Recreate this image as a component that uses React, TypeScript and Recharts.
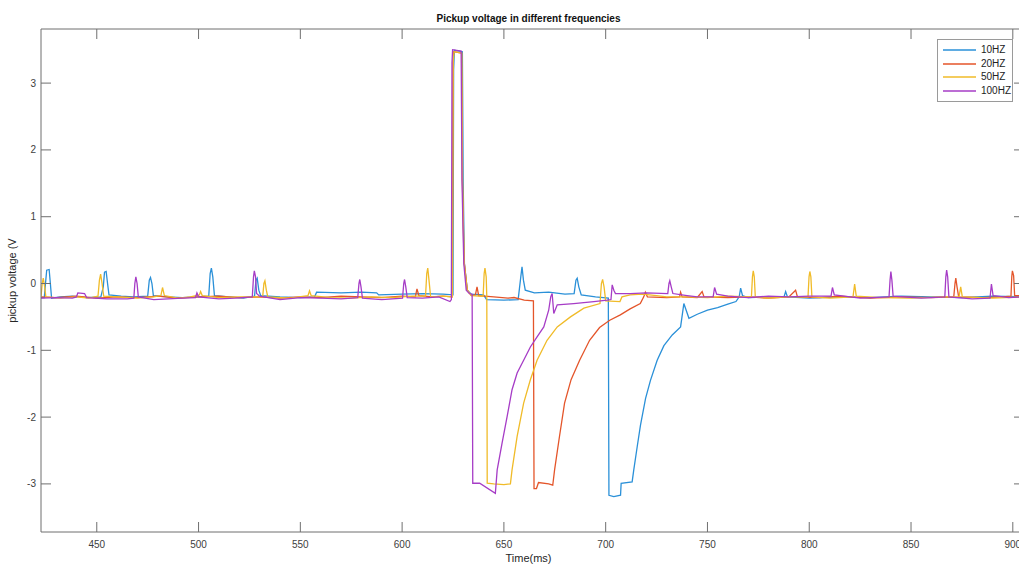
import React from 'react';
import { LineChart, Line, XAxis, YAxis, Legend, Label } from 'recharts';

// ---- data (time in ms, pickup voltage in V) ----
const seriesNames = ['10HZ', '20HZ', '50HZ', '100HZ'];
const xTicks = [450, 500, 550, 600, 650, 700, 750, 800, 850, 900];
const yTicks = [-3, -2, -1, 0, 1, 2, 3];
const xDomain: [number, number] = [422.6, 905.5];
const yDomain: [number, number] = [-3.72, 3.81];

const hz10: [number, number][] = [
  [422.6, -0.21], [424.2, -0.21], [424.8, 0.0], [425.4, 0.2], [426.6, 0.21], [427.2, 0.0], [427.8, -0.22],
  [432, -0.2], [438, -0.19], [445, -0.21], [452, -0.2], [453.2, -0.05], [453.8, 0.17], [454.6, 0.18],
  [455.3, 0.0], [456, -0.17], [462, -0.19], [468, -0.2], [475, -0.19], [475.8, 0.05], [476.4, 0.09],
  [477.1, 0.0], [477.8, -0.18], [485, -0.2], [492, -0.21], [500, -0.2], [505, -0.19], [505.7, 0.15],
  [506.3, 0.23], [507, 0.1], [507.8, -0.18], [515, -0.2], [522, -0.22], [527.5, -0.19], [528.2, 0.05],
  [528.8, 0.08], [529.6, -0.1], [530.5, -0.18], [540, -0.2], [550, -0.21], [557, -0.2], [558, -0.13],
  [570, -0.14], [580, -0.13], [587.5, -0.14], [588.5, -0.17], [600, -0.16], [610, -0.15], [620, -0.16],
  [625, -0.17], [625.3, 3.2], [625.7, 3.49], [629.6, 3.47], [630, 1.5], [630.6, 0.3], [632, -0.1],
  [634, -0.16], [640, -0.17], [641.5, -0.24], [650, -0.25], [657, -0.24], [658.3, 0.1], [658.9, 0.25],
  [659.6, 0.05], [660.5, -0.1], [665, -0.14], [672, -0.13], [680, -0.16], [684.5, -0.15], [685.4, 0.05],
  [686, 0.08], [686.8, -0.05], [688, -0.17], [695, -0.2], [701.3, -0.22], [701.6, -3.17], [704, -3.19],
  [707.3, -3.17], [707.6, -2.99], [713, -2.97], [713.8, -2.79], [715.5, -2.44], [717.1, -2.12],
  [719.6, -1.72], [722, -1.45], [725.3, -1.15], [728.6, -0.93], [732.7, -0.77], [736.8, -0.65],
  [738.4, -0.3], [740.9, -0.52], [745, -0.46], [750, -0.4], [755, -0.36], [760, -0.31], [764, -0.27],
  [765.6, -0.2], [766.3, -0.07], [767.2, -0.18], [770, -0.21], [780, -0.2], [787.6, -0.2], [788.4, -0.12],
  [789.3, -0.2], [800, -0.22], [815, -0.2], [830, -0.21], [845, -0.19], [860, -0.2], [875, -0.21],
  [890, -0.19], [905.5, -0.2],
];

const hz20: [number, number][] = [
  [422.6, -0.2], [430, -0.21], [440, -0.19], [450, -0.22], [460, -0.2], [470, -0.21], [480, -0.19],
  [490, -0.22], [500, -0.2], [510, -0.19], [520, -0.21], [530, -0.2], [540, -0.22], [550, -0.2],
  [560, -0.21], [570, -0.19], [580, -0.2], [590, -0.21], [600, -0.19], [606.5, -0.2], [607.3, -0.08],
  [608.2, -0.18], [615, -0.2], [620, -0.19], [624.6, -0.2], [625, 3.3], [625.3, 3.47], [629.2, 3.45],
  [629.6, 1.55], [630.4, 0.35], [632, -0.1], [634, -0.18], [636, -0.17], [636.8, -0.05], [637.6, -0.18],
  [645, -0.2], [652, -0.22], [655, -0.21], [660, -0.25], [664.5, -0.26], [664.8, -3.07], [666, -3.07],
  [667, -2.98], [672, -3.0], [674, -3.02], [674.9, -2.79], [677.3, -2.29], [679.8, -1.79], [683, -1.44],
  [687.2, -1.15], [692.1, -0.85], [697, -0.66], [702, -0.55], [707.2, -0.47], [712, -0.38], [717, -0.3],
  [718.7, -0.2], [719.5, -0.13], [720.5, -0.2], [730, -0.21], [736.3, -0.2], [736.8, -0.13], [737.6, -0.2],
  [745, -0.21], [747.4, -0.12], [748.3, -0.2], [760, -0.21], [770, -0.2], [780, -0.22], [790, -0.2],
  [793.3, -0.1], [794.2, -0.2], [805, -0.21], [815, -0.19], [830, -0.22], [845, -0.2], [860, -0.21],
  [871, -0.2], [871.6, 0.0], [872, 0.08], [872.6, -0.05], [873.4, -0.2], [885, -0.21], [895, -0.2],
  [899.1, -0.19], [899.5, 0.1], [899.8, 0.19], [900.4, 0.12], [900.9, -0.18], [905.5, -0.18],
];

const hz50: [number, number][] = [
  [422.6, -0.2], [423.2, 0.0], [423.7, 0.08], [424.4, -0.05], [425, -0.2], [432, -0.22], [440, -0.2],
  [446, -0.22], [450.6, -0.19], [451.3, 0.05], [451.9, 0.14], [452.6, 0.0], [453.4, -0.19], [460, -0.2],
  [470, -0.22], [478, -0.2], [481.5, -0.18], [482.3, -0.06], [483.2, -0.18], [490, -0.22], [496, -0.2],
  [500.4, -0.17], [501, -0.12], [501.8, -0.18], [510, -0.21], [520, -0.2], [531.5, -0.2], [532.1, 0.0],
  [532.6, 0.04], [533.3, -0.1], [534, -0.2], [545, -0.22], [553.8, -0.18], [554.5, -0.11], [555.3, -0.18],
  [565, -0.21], [575, -0.22], [585, -0.2], [595, -0.21], [605, -0.19], [611.5, -0.19], [612.1, 0.15],
  [612.6, 0.23], [613.2, 0.05], [614, -0.2], [620, -0.19], [624.7, -0.2], [625.1, 3.3], [625.5, 3.47],
  [629.3, 3.45], [629.7, 1.5], [630.5, 0.3], [632, -0.1], [634, -0.18], [639.8, -0.19], [640.3, 0.15],
  [640.7, 0.23], [641.3, 0.1], [641.6, -0.2], [641.8, -2.99], [645, -3.0], [650, -3.01], [653.2, -3.0],
  [654, -2.79], [656.5, -2.29], [659.7, -1.79], [663, -1.44], [666.3, -1.15], [671.2, -0.85],
  [676.2, -0.65], [682.7, -0.5], [689.3, -0.37], [697.2, -0.3], [697.9, 0.0], [698.5, 0.06], [699.2, -0.05],
  [700, -0.26], [707, -0.27], [708, -0.2], [712, -0.17], [718, -0.16], [725, -0.18], [730, -0.2],
  [740, -0.2], [750, -0.21], [760, -0.19], [771.6, -0.2], [772.1, 0.1], [772.5, 0.19], [773, 0.1],
  [773.5, -0.2], [780, -0.22], [790, -0.2], [799.4, -0.2], [799.9, 0.1], [800.3, 0.18], [800.8, 0.1],
  [801.3, -0.2], [810, -0.22], [821.5, -0.2], [822.3, -0.01], [823.1, -0.19], [835, -0.21], [850, -0.22],
  [865, -0.2], [873.6, -0.2], [874.4, -0.05], [875.2, -0.2], [890, -0.22], [905.5, -0.2],
];

const hz100: [number, number][] = [
  [422.6, -0.22], [430, -0.21], [438, -0.22], [440, -0.2], [440.7, -0.14], [444, -0.15], [445, -0.21],
  [455, -0.23], [465, -0.23], [468.2, -0.22], [468.7, 0.0], [469.2, 0.1], [469.8, 0.0], [470.4, -0.2],
  [478, -0.24], [485, -0.23], [492, -0.22], [498.5, -0.21], [499.2, -0.14], [500, -0.2], [510, -0.23],
  [518, -0.22], [526.4, -0.2], [527, 0.1], [527.4, 0.19], [528, 0.1], [528.5, -0.15], [530, -0.19],
  [540, -0.24], [550, -0.21], [560, -0.22], [570, -0.23], [578.2, -0.21], [578.8, 0.0], [579.2, 0.06],
  [579.8, -0.05], [580.5, -0.22], [590, -0.24], [600.2, -0.22], [600.8, 0.0], [601.2, 0.06], [601.8, -0.05],
  [602.5, -0.21], [610, -0.22], [618, -0.2], [623.5, -0.27], [624.2, -0.24], [624.5, 3.3], [624.8, 3.5],
  [629, 3.48], [629.4, 1.55], [630.3, 0.3], [631.5, -0.1], [633, -0.15], [634.4, -0.16], [634.7, -2.99],
  [638.1, -2.99], [645.8, -3.14], [646.7, -2.79], [649.1, -2.39], [651.6, -1.99], [654, -1.59],
  [656.5, -1.34], [659.7, -1.15], [663, -0.95], [666.3, -0.8], [669.6, -0.65], [672, -0.4], [673, -0.2],
  [673.7, -0.15], [674.5, -0.45], [676.2, -0.32], [684.3, -0.3], [694.2, -0.27], [700.7, -0.25],
  [702.6, -0.24], [703.2, -0.02], [704, -0.1], [704.8, -0.15], [712, -0.15], [720, -0.14], [730.5, -0.15],
  [731.1, 0.0], [731.5, 0.04], [732.2, -0.05], [733, -0.15], [740, -0.18], [745, -0.2], [752.8, -0.2],
  [753.5, -0.06], [754.5, -0.16], [760, -0.19], [770, -0.21], [780, -0.19], [790, -0.2], [800, -0.19],
  [810.7, -0.19], [811.4, -0.06], [812.3, -0.17], [825, -0.22], [839.2, -0.2], [839.7, 0.05], [840.1, 0.18],
  [840.6, 0.05], [841.2, -0.19], [855, -0.22], [866.6, -0.2], [867.1, 0.1], [867.5, 0.2], [868, 0.1],
  [868.6, -0.2], [880, -0.23], [888.8, -0.22], [889.5, -0.01], [890.3, -0.18], [898, -0.21], [905.5, -0.2],
];

const seriesPoints = [hz10, hz20, hz50, hz100];
const seriesColors = ['#2a90d8', '#e4552a', '#f0bb28', '#a63cc6'];

const toRows = (pts: [number, number][]) => pts.map(([t, v]) => ({ t, v }));

const FONT = '"Liberation Sans", Arial, Helvetica, sans-serif';
const AXIS = '#6f6f6f';
const TICKTXT = '#404040';

const BottomTick = (props: any) => {
  const { x, y, payload } = props;
  return (
    <g>
      <line x1={x} x2={x} y1={y} y2={y - 10} stroke={AXIS} strokeWidth={1} />
      <text x={x} y={y + 16} textAnchor="middle" fontSize={10} fill={TICKTXT} fontFamily={FONT}>
        {payload.value}
      </text>
    </g>
  );
};
const TopTick = (props: any) => {
  const { x, y } = props;
  return <line x1={x} x2={x} y1={y} y2={y + 10} stroke={AXIS} strokeWidth={1} />;
};
const LeftTick = (props: any) => {
  const { x, y, payload } = props;
  return (
    <g>
      <line x1={x} x2={x + 10} y1={y} y2={y} stroke={AXIS} strokeWidth={1} />
      <text x={x - 5} y={y + 3.5} textAnchor="end" fontSize={10} fill={TICKTXT} fontFamily={FONT}>
        {payload.value}
      </text>
    </g>
  );
};
const RightTick = (props: any) => {
  const { x, y } = props;
  return <line x1={x} x2={x - 10} y1={y} y2={y} stroke={AXIS} strokeWidth={1} />;
};

const renderLegend = (props: any) => {
  const payload = [...(props.payload || [])].sort(
    (a: any, b: any) => seriesNames.indexOf(a.value) - seriesNames.indexOf(b.value)
  );
  return (
    <div
      style={{
        border: '1px solid #9a9a9a',
        background: '#fff',
        width: 76,
        padding: '3px 0',
        boxSizing: 'border-box',
        fontFamily: FONT,
        fontSize: 10,
        color: '#222',
      }}
    >
      {payload.map((p: any) => (
        <div key={p.value} style={{ display: 'flex', alignItems: 'center', height: 13.7 }}>
          <svg width={43} height={6} style={{ display: 'block' }}>
            <line x1={5} x2={38} y1={3} y2={3} stroke={p.color} strokeWidth={1.3} />
          </svg>
          <span style={{ lineHeight: '12px' }}>{p.value}</span>
        </div>
      ))}
    </div>
  );
};

export default function App() {
  const W = 1040;
  const H = 568;
  const plotLeft = 41;
  const plotTop = 29;
  const plotRight = 1024;
  const plotBottom = 532;
  return (
    <div
      style={{
        position: 'fixed',
        left: 0,
        top: 0,
        width: 1019,
        height: 568,
        overflow: 'hidden',
        background: '#fff',
      }}
    >
      <LineChart
        width={W}
        height={H}
        margin={{ top: plotTop - 1, left: plotLeft - 1, right: W - plotRight - 1, bottom: H - plotBottom - 1 }}
      >
        <XAxis
          xAxisId="bottom"
          dataKey="t"
          type="number"
          domain={xDomain}
          allowDataOverflow
          ticks={xTicks}
          height={1}
          tickSize={0}
          tickMargin={0}
          tickLine={false}
          axisLine={{ stroke: AXIS, strokeWidth: 1 }}
          tick={<BottomTick />}
          interval={0}
        >
          <Label
            content={(p: any) => {
              const vb = p.viewBox;
              return (
                <text
                  x={vb.x + vb.width / 2 - 4}
                  y={vb.y + 30}
                  textAnchor="middle"
                  fontSize={11}
                  fill="#262626"
                  fontFamily={FONT}
                >
                  Time(ms)
                </text>
              );
            }}
          />
        </XAxis>
        <XAxis
          xAxisId="top"
          orientation="top"
          dataKey="t"
          type="number"
          domain={xDomain}
          allowDataOverflow
          ticks={xTicks}
          height={1}
          tickSize={0}
          tickMargin={0}
          tickLine={false}
          axisLine={{ stroke: AXIS, strokeWidth: 1 }}
          tick={<TopTick />}
          interval={0}
        >
          <Label
            content={(p: any) => {
              const vb = p.viewBox;
              return (
                <text
                  x={vb.x + vb.width / 2 - 4}
                  y={vb.y - 6}
                  textAnchor="middle"
                  fontSize={10}
                  fontWeight="bold"
                  fill="#111"
                  fontFamily={FONT}
                >
                  Pickup voltage in different frequencies
                </text>
              );
            }}
          />
        </XAxis>
        <YAxis
          yAxisId="left"
          type="number"
          domain={yDomain}
          allowDataOverflow
          ticks={yTicks}
          width={1}
          tickSize={0}
          tickMargin={0}
          tickLine={false}
          axisLine={{ stroke: AXIS, strokeWidth: 1 }}
          tick={<LeftTick />}
          interval={0}
        >
          <Label
            content={(p: any) => {
              const vb = p.viewBox;
              const cx = 12;
              const cy = vb.y + vb.height / 2;
              return (
                <text
                  x={cx}
                  y={cy}
                  transform={`rotate(-90, ${cx}, ${cy})`}
                  textAnchor="middle"
                  dominantBaseline="central"
                  fontSize={11}
                  fill="#262626"
                  fontFamily={FONT}
                >
                  pickup voltage (V
                </text>
              );
            }}
          />
        </YAxis>
        <YAxis
          yAxisId="right"
          orientation="right"
          type="number"
          domain={yDomain}
          allowDataOverflow
          ticks={yTicks}
          width={1}
          tickSize={0}
          tickMargin={0}
          tickLine={false}
          axisLine={{ stroke: AXIS, strokeWidth: 1 }}
          tick={<RightTick />}
          interval={0}
        />
        <Legend
          layout="vertical"
          align="center"
          verticalAlign="middle"
          content={renderLegend}
          wrapperStyle={{ top: 39, left: 937, width: 76 }}
        />
        {seriesPoints.map((pts, i) => (
          <Line
            key={seriesNames[i]}
            xAxisId="bottom"
            yAxisId="left"
            data={toRows(pts)}
            dataKey="v"
            name={seriesNames[i]}
            type="linear"
            stroke={seriesColors[i]}
            strokeWidth={1.3}
            dot={false}
            activeDot={false}
            isAnimationActive={false}
          />
        ))}
      </LineChart>
    </div>
  );
}
